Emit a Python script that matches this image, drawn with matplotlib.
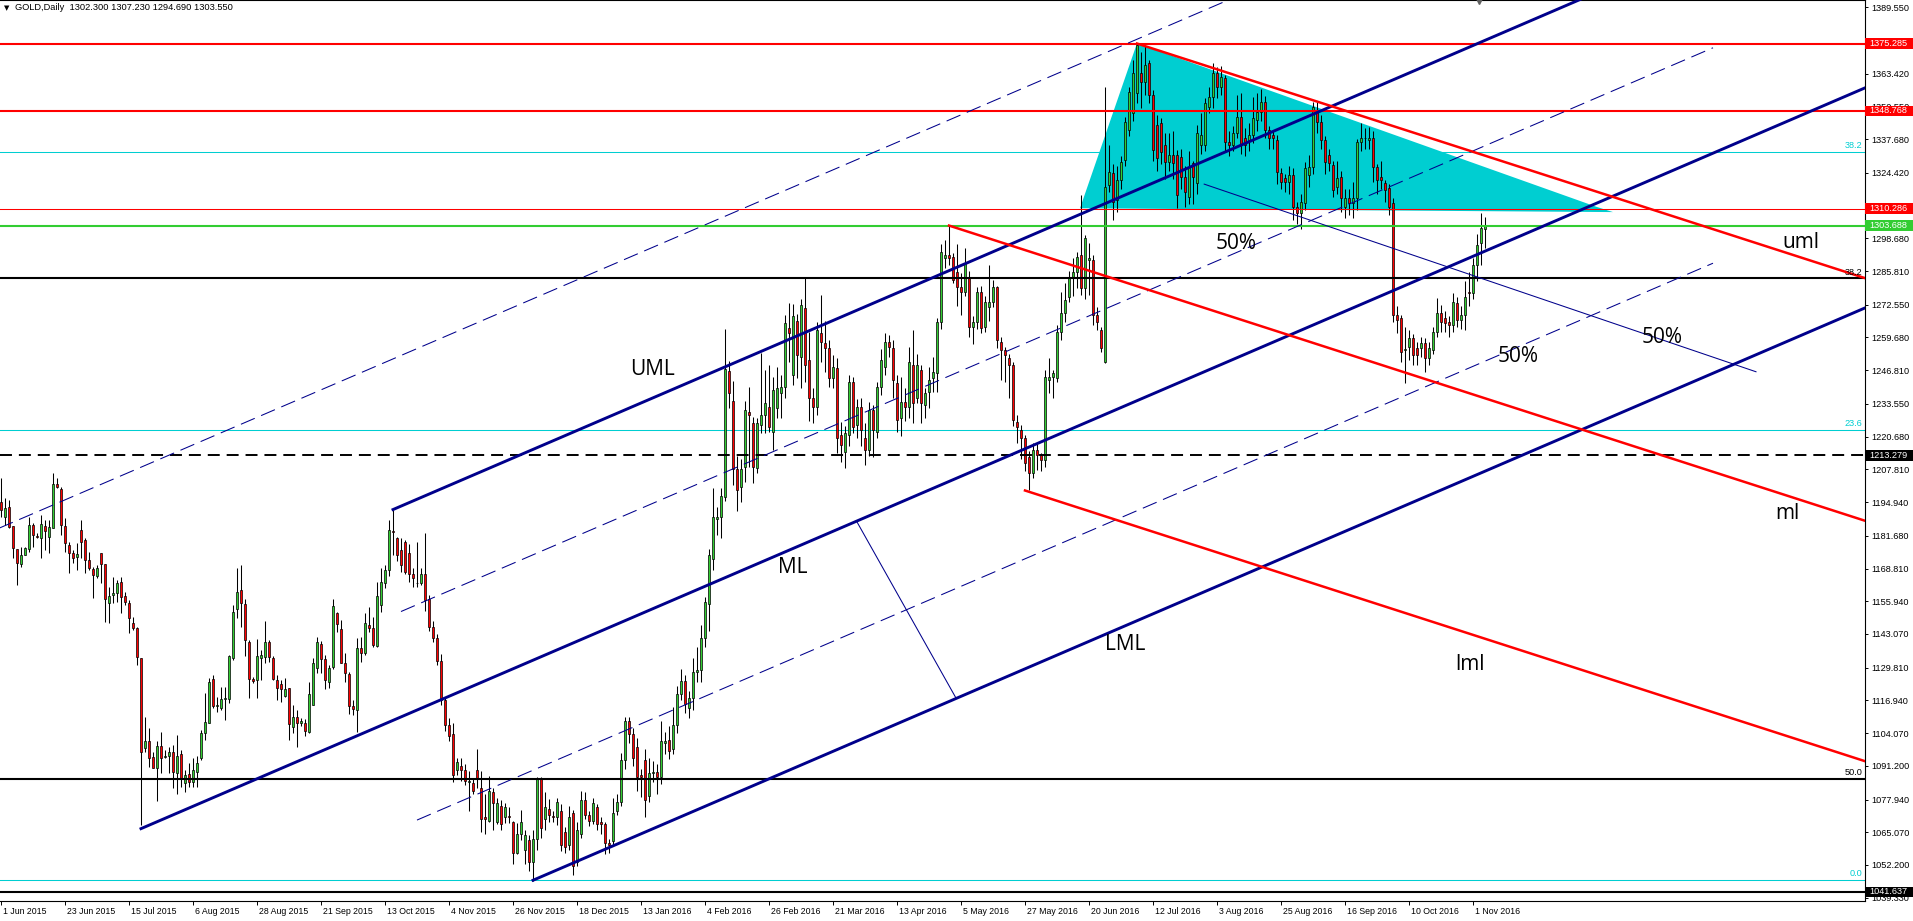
import matplotlib
matplotlib.use("Agg")
import matplotlib.pyplot as plt
import matplotlib.transforms as mtransforms
from matplotlib.patches import Rectangle
import numpy as np

plt.rcParams["font.family"] = ["Liberation Sans", "DejaVu Sans"]
plt.rcParams["lines.scale_dashes"] = False

# daily GOLD candles, one per bar (bar 0 = 1 Jun 2015)
opens = [
    1195.0, 1189.2, 1193.2, 1185.6, 1176.4, 1170.5, 1174.2, 1176.4, 1186.0, 1181.6,
    1180.7, 1185.6, 1181.4, 1184.7, 1202.0, 1200.0, 1185.6, 1178.1, 1174.8, 1173.2,
    1184.0, 1180.1, 1172.2, 1168.5, 1165.9, 1174.8, 1170.5, 1155.2, 1158.2, 1159.1,
    1163.4, 1158.0, 1155.2, 1147.3, 1145.3, 1133.5, 1098.1, 1100.8, 1094.6, 1090.5,
    1099.1, 1094.6, 1094.9, 1096.8, 1088.3, 1095.8, 1084.4, 1087.9, 1085.0, 1088.9,
    1094.2, 1104.0, 1108.2, 1125.4, 1114.9, 1113.8, 1117.6, 1117.4, 1133.5, 1152.9,
    1160.4, 1154.8, 1140.1, 1125.3, 1125.0, 1133.5, 1134.2, 1139.8, 1133.5, 1125.0,
    1123.3, 1118.7, 1121.7, 1106.4, 1110.6, 1107.9, 1108.2, 1104.7, 1115.2, 1129.8,
    1139.0, 1133.1, 1124.1, 1130.2, 1151.5, 1144.9, 1131.8, 1127.2, 1114.9, 1113.2,
    1137.4, 1135.5, 1146.5, 1145.3, 1138.5, 1154.5, 1163.0, 1168.1, 1183.7, 1180.7,
    1176.2, 1179.2, 1174.8, 1166.6, 1163.0, 1163.0, 1166.6, 1157.0, 1145.9, 1141.5,
    1132.6, 1117.1, 1107.4, 1103.7, 1089.4, 1091.2, 1089.4, 1085.0, 1084.5, 1089.4,
    1082.6, 1071.2, 1069.7, 1080.8, 1069.0, 1075.6, 1071.2, 1071.3, 1069.0, 1057.1,
    1064.5, 1058.0, 1062.0, 1053.4, 1062.3, 1086.0, 1070.4, 1074.2, 1071.4, 1071.2,
    1073.4, 1065.3, 1060.1, 1072.6, 1053.4, 1064.5, 1077.8, 1071.9, 1069.7, 1074.9,
    1069.0, 1068.2, 1060.8, 1061.6, 1073.4, 1077.1, 1093.4, 1108.9, 1103.7, 1098.5,
    1087.5, 1093.4, 1079.3, 1088.2, 1088.9, 1086.7, 1100.0, 1101.5, 1097.8, 1107.4,
    1119.3, 1124.5, 1114.1, 1117.8, 1128.2, 1128.9, 1141.5, 1154.8, 1172.6, 1188.1,
    1189.1, 1197.0, 1246.6, 1234.7, 1208.1, 1200.7, 1208.9, 1230.5, 1225.9, 1208.2,
    1225.3, 1229.2, 1232.5, 1222.7, 1231.8, 1237.7, 1240.3, 1263.3, 1245.0, 1266.0,
    1252.2, 1271.1, 1250.8, 1235.8, 1232.5, 1261.3, 1257.4, 1255.4, 1243.6, 1247.5,
    1221.3, 1214.8, 1221.3, 1242.3, 1225.3, 1232.5, 1220.0, 1215.4, 1231.2, 1222.7,
    1240.3, 1248.0, 1258.1, 1255.4, 1241.6, 1227.9, 1234.4, 1232.5, 1248.9, 1236.0,
    1246.9, 1233.1, 1238.4, 1243.6, 1245.6, 1265.9, 1291.0, 1292.1, 1291.5, 1285.5,
    1279.7, 1277.7, 1283.6, 1264.0, 1265.9, 1277.7, 1264.0, 1271.8, 1273.8, 1279.7,
    1258.1, 1254.8, 1251.5, 1248.9, 1226.6, 1223.3, 1220.0, 1212.8, 1206.3, 1215.4,
    1213.5, 1211.5, 1243.0, 1244.3, 1243.6, 1262.0, 1269.2, 1275.7, 1283.6, 1285.5,
    1292.1, 1279.0, 1290.2, 1290.2, 1268.5, 1262.6, 1250.2, 1319.7, 1324.2, 1313.8,
    1321.6, 1329.5, 1341.3, 1347.9, 1355.7, 1363.6, 1360.3, 1367.5, 1355.0, 1343.3,
    1343.9, 1335.4, 1328.8, 1331.5, 1331.5, 1330.8, 1322.9, 1315.1, 1328.2, 1320.3,
    1335.4, 1335.4, 1350.5, 1354.4, 1363.6, 1358.3, 1361.6, 1336.7, 1335.4, 1340.0,
    1346.5, 1338.0, 1337.3, 1339.3, 1345.2, 1348.5, 1352.4, 1341.3, 1339.3, 1337.3,
    1324.2, 1322.3, 1321.0, 1323.6, 1311.1, 1308.5, 1312.5, 1323.6, 1326.9, 1349.2,
    1344.6, 1337.3, 1331.5, 1327.5, 1319.0, 1322.9, 1311.1, 1314.4, 1312.5, 1314.4,
    1336.7, 1338.0, 1337.3, 1338.0, 1326.9, 1322.9, 1320.3, 1318.3, 1312.5, 1268.5,
    1267.2, 1254.8, 1256.1, 1259.4, 1255.4, 1255.4, 1257.4, 1251.5, 1254.8, 1262.0,
    1269.2, 1267.2, 1265.9, 1264.6, 1273.1, 1266.6, 1268.5, 1277.7, 1277.1, 1288.2,
    1296.7, 1302.3,
]
highs = [
    1204.3, 1196.5, 1195.8, 1185.6, 1176.4, 1177.4, 1177.4, 1189.2, 1186.6, 1182.7,
    1189.9, 1187.9, 1187.9, 1206.3, 1204.3, 1201.0, 1188.6, 1179.4, 1176.1, 1178.8,
    1187.9, 1180.7, 1175.5, 1169.6, 1170.2, 1174.8, 1170.5, 1161.7, 1165.6, 1164.3,
    1165.6, 1159.7, 1156.5, 1149.9, 1146.0, 1133.5, 1110.6, 1106.0, 1096.8, 1100.8,
    1104.7, 1097.5, 1098.8, 1099.4, 1103.4, 1097.5, 1089.6, 1092.3, 1094.2, 1094.9,
    1105.3, 1119.8, 1125.7, 1127.0, 1118.4, 1122.4, 1122.4, 1134.8, 1154.5, 1168.9,
    1170.2, 1156.7, 1140.7, 1126.3, 1141.0, 1136.8, 1148.2, 1140.7, 1134.4, 1127.0,
    1125.0, 1125.7, 1121.7, 1115.2, 1113.2, 1109.9, 1109.5, 1124.0, 1133.5, 1142.0,
    1140.3, 1134.8, 1130.9, 1156.7, 1151.9, 1148.6, 1135.5, 1128.3, 1117.1, 1141.4,
    1142.0, 1151.2, 1153.8, 1149.9, 1163.7, 1168.9, 1170.0, 1188.0, 1192.0, 1181.4,
    1180.7, 1180.0, 1178.5, 1168.9, 1179.2, 1168.9, 1182.9, 1158.5, 1148.0, 1143.0,
    1135.0, 1118.0, 1110.0, 1108.0, 1094.4, 1094.4, 1092.0, 1089.0, 1086.0, 1097.8,
    1089.0, 1080.0, 1087.3, 1082.3, 1078.6, 1077.8, 1076.4, 1074.9, 1069.7, 1068.9,
    1074.0, 1066.0, 1064.0, 1066.0, 1087.0, 1087.0, 1081.0, 1078.0, 1073.4, 1078.6,
    1076.0, 1067.0, 1075.6, 1074.0, 1069.0, 1081.5, 1080.8, 1073.4, 1078.6, 1076.0,
    1071.2, 1069.0, 1062.3, 1078.6, 1080.0, 1096.3, 1110.4, 1110.4, 1106.0, 1102.0,
    1090.0, 1098.0, 1094.4, 1093.0, 1091.9, 1109.0, 1104.4, 1107.0, 1114.5, 1122.5,
    1129.2, 1126.8, 1120.8, 1133.6, 1138.0, 1146.6, 1157.8, 1176.5, 1200.6, 1193.0,
    1200.6, 1263.1, 1250.4, 1242.7, 1213.0, 1212.0, 1234.7, 1240.3, 1228.5, 1227.9,
    1253.5, 1246.9, 1248.9, 1244.3, 1248.2, 1245.0, 1268.5, 1273.1, 1273.0, 1269.0,
    1275.0, 1282.9, 1262.0, 1240.0, 1265.9, 1276.2, 1266.0, 1258.8, 1252.7, 1251.5,
    1226.6, 1225.0, 1244.9, 1244.0, 1235.5, 1236.0, 1226.0, 1234.4, 1233.0, 1242.3,
    1255.0, 1261.3, 1260.7, 1258.7, 1245.0, 1244.0, 1240.0, 1256.0, 1262.6, 1253.0,
    1249.0, 1240.0, 1248.0, 1252.0, 1267.2, 1296.6, 1298.0, 1303.7, 1293.0, 1296.6,
    1285.0, 1294.7, 1286.0, 1268.0, 1279.7, 1280.0, 1276.0, 1288.2, 1282.3, 1280.0,
    1260.0, 1256.0, 1253.0, 1250.2, 1229.0, 1225.3, 1221.3, 1215.0, 1218.0, 1218.0,
    1214.1, 1246.9, 1251.5, 1247.0, 1264.6, 1277.7, 1281.0, 1286.0, 1290.8, 1293.5,
    1315.7, 1300.0, 1297.0, 1292.0, 1271.8, 1264.0, 1358.3, 1335.4, 1327.8, 1327.0,
    1331.0, 1346.5, 1358.3, 1368.8, 1375.4, 1372.0, 1374.7, 1369.0, 1357.0, 1347.0,
    1346.0, 1340.0, 1340.0, 1341.0, 1333.4, 1334.0, 1327.0, 1333.0, 1329.0, 1343.3,
    1348.0, 1354.0, 1358.3, 1367.5, 1366.0, 1366.5, 1363.0, 1341.0, 1343.0, 1355.0,
    1355.7, 1342.0, 1344.0, 1354.4, 1356.0, 1357.5, 1354.5, 1343.0, 1341.0, 1339.5,
    1326.2, 1324.0, 1327.0, 1326.2, 1313.0, 1316.0, 1328.8, 1331.5, 1352.4, 1352.4,
    1347.0, 1339.0, 1334.0, 1329.0, 1329.0, 1325.0, 1318.0, 1318.0, 1321.0, 1337.8,
    1343.9, 1342.0, 1342.5, 1341.0, 1328.0, 1329.0, 1321.5, 1320.0, 1314.4, 1272.0,
    1268.5, 1264.0, 1262.6, 1261.0, 1258.0, 1260.0, 1259.5, 1258.0, 1264.0, 1275.4,
    1272.5, 1270.0, 1268.0, 1277.1, 1275.5, 1272.0, 1282.0, 1285.5, 1291.0, 1300.5,
    1308.8, 1307.23,
]
lows = [
    1189.2, 1186.0, 1184.7, 1172.9, 1162.4, 1169.6, 1174.2, 1175.5, 1177.4, 1180.7,
    1172.9, 1176.1, 1174.8, 1184.7, 1200.4, 1182.0, 1175.5, 1167.2, 1170.9, 1168.3,
    1172.9, 1167.0, 1168.3, 1157.1, 1165.0, 1163.0, 1147.9, 1147.3, 1155.2, 1155.8,
    1151.2, 1154.5, 1143.4, 1144.7, 1130.9, 1068.0, 1096.8, 1090.9, 1090.3, 1077.2,
    1088.3, 1094.2, 1088.3, 1082.4, 1080.2, 1083.0, 1081.1, 1083.0, 1083.0, 1083.0,
    1093.5, 1101.4, 1107.9, 1113.8, 1112.5, 1113.2, 1109.3, 1115.8, 1132.9, 1149.3,
    1146.0, 1134.4, 1117.8, 1123.7, 1117.8, 1125.0, 1131.8, 1132.2, 1125.0, 1117.1,
    1116.5, 1118.4, 1101.4, 1104.0, 1098.8, 1106.7, 1103.0, 1104.0, 1115.2, 1127.6,
    1127.6, 1121.3, 1121.7, 1129.2, 1144.0, 1131.5, 1124.3, 1111.6, 1111.2, 1104.7,
    1132.2, 1134.8, 1144.0, 1138.1, 1138.1, 1151.8, 1161.0, 1166.0, 1174.0, 1171.8,
    1167.4, 1166.6, 1163.7, 1161.5, 1161.5, 1162.2, 1152.0, 1144.4, 1140.0, 1131.0,
    1115.0, 1105.0, 1101.0, 1085.0, 1087.5, 1085.2, 1083.7, 1073.4, 1080.0, 1082.3,
    1065.3, 1064.5, 1069.0, 1066.0, 1068.4, 1066.0, 1068.9, 1068.9, 1052.7, 1056.4,
    1062.0, 1052.7, 1050.0, 1046.1, 1058.0, 1063.0, 1066.0, 1069.0, 1069.0, 1068.0,
    1057.8, 1057.0, 1058.0, 1048.3, 1052.0, 1063.0, 1070.4, 1067.5, 1068.2, 1066.0,
    1064.5, 1056.4, 1057.1, 1060.0, 1072.0, 1075.6, 1090.0, 1100.0, 1091.2, 1081.5,
    1079.0, 1071.0, 1077.0, 1085.0, 1080.0, 1084.0, 1096.0, 1094.0, 1096.0, 1104.0,
    1117.0, 1112.0, 1110.0, 1113.0, 1124.0, 1124.0, 1138.0, 1144.4, 1168.2, 1181.8,
    1181.0, 1195.5, 1232.0, 1201.7, 1191.3, 1194.8, 1203.0, 1208.9, 1202.3, 1206.3,
    1222.0, 1222.0, 1222.7, 1215.4, 1227.9, 1228.0, 1236.0, 1250.2, 1241.0, 1243.6,
    1240.0, 1242.3, 1227.0, 1225.9, 1229.0, 1250.0, 1246.3, 1240.3, 1239.7, 1214.1,
    1210.8, 1208.2, 1217.0, 1222.0, 1220.0, 1217.0, 1209.5, 1213.0, 1212.5, 1220.0,
    1237.0, 1245.0, 1252.0, 1236.0, 1222.7, 1221.0, 1227.0, 1228.0, 1226.0, 1234.0,
    1226.0, 1228.0, 1232.0, 1238.4, 1238.4, 1263.0, 1287.0, 1288.0, 1281.0, 1272.0,
    1268.5, 1276.0, 1260.0, 1257.0, 1263.0, 1261.3, 1262.0, 1266.0, 1271.8, 1255.4,
    1243.0, 1242.3, 1236.0, 1225.0, 1218.0, 1212.0, 1207.0, 1199.7, 1204.3, 1207.6,
    1207.0, 1208.9, 1237.7, 1236.0, 1242.0, 1258.7, 1265.9, 1273.8, 1276.0, 1279.0,
    1276.4, 1275.0, 1276.4, 1264.6, 1262.6, 1254.0, 1249.5, 1316.8, 1306.0, 1309.0,
    1318.0, 1327.0, 1339.0, 1345.0, 1352.0, 1350.0, 1355.0, 1352.0, 1329.0, 1325.0,
    1328.0, 1322.0, 1325.0, 1322.0, 1310.5, 1318.0, 1311.0, 1312.0, 1312.0, 1316.0,
    1332.0, 1333.0, 1348.0, 1350.0, 1354.0, 1355.0, 1333.0, 1331.0, 1333.0, 1338.0,
    1332.0, 1331.0, 1333.0, 1336.0, 1341.0, 1345.0, 1338.0, 1334.0, 1334.0, 1320.0,
    1318.0, 1317.0, 1316.0, 1305.8, 1304.3, 1302.2, 1310.0, 1319.0, 1324.0, 1340.0,
    1334.0, 1324.0, 1325.0, 1315.0, 1316.0, 1309.0, 1306.5, 1308.0, 1306.5, 1310.0,
    1333.0, 1334.0, 1334.0, 1321.0, 1316.0, 1318.0, 1313.0, 1308.0, 1265.9, 1261.5,
    1250.2, 1241.6, 1251.0, 1249.0, 1249.0, 1252.0, 1246.2, 1249.0, 1253.0, 1260.0,
    1262.0, 1262.0, 1260.0, 1262.0, 1264.0, 1263.0, 1262.6, 1272.0, 1275.0, 1282.0,
    1288.0, 1294.69,
]
closes = [
    1192.0, 1192.5, 1185.1, 1176.8, 1170.9, 1174.2, 1176.8, 1186.0, 1182.0, 1181.2,
    1186.2, 1183.7, 1185.1, 1202.1, 1200.8, 1186.0, 1178.8, 1175.1, 1172.9, 1174.4,
    1179.4, 1172.2, 1168.9, 1166.3, 1169.2, 1170.6, 1156.7, 1158.0, 1159.1, 1163.0,
    1157.8, 1155.6, 1149.3, 1145.3, 1133.9, 1096.8, 1100.8, 1094.2, 1090.5, 1099.1,
    1094.2, 1095.1, 1096.8, 1088.6, 1095.1, 1086.3, 1087.6, 1085.0, 1089.6, 1092.3,
    1104.3, 1108.6, 1124.1, 1114.9, 1115.2, 1117.4, 1118.0, 1134.4, 1151.9, 1159.4,
    1155.2, 1140.5, 1125.3, 1124.5, 1134.4, 1134.8, 1140.1, 1133.9, 1125.3, 1121.7,
    1121.3, 1121.3, 1107.6, 1110.6, 1107.9, 1108.9, 1105.1, 1119.4, 1131.5, 1140.1,
    1133.1, 1125.0, 1129.8, 1154.1, 1146.9, 1131.8, 1127.6, 1114.9, 1113.5, 1137.4,
    1135.5, 1147.3, 1145.3, 1138.8, 1158.0, 1163.7, 1168.4, 1184.0, 1183.0, 1174.3,
    1170.3, 1167.4, 1166.6, 1165.2, 1163.3, 1166.6, 1156.3, 1145.9, 1141.5, 1132.6,
    1117.1, 1107.4, 1103.0, 1087.5, 1092.6, 1089.4, 1085.2, 1085.4, 1081.5, 1086.0,
    1070.1, 1070.4, 1081.5, 1076.4, 1076.4, 1068.2, 1075.2, 1071.0, 1057.1, 1064.5,
    1069.0, 1064.0, 1053.4, 1062.3, 1086.0, 1066.8, 1074.9, 1071.9, 1071.0, 1077.1,
    1060.1, 1059.3, 1071.2, 1052.0, 1066.0, 1077.8, 1071.9, 1069.7, 1076.4, 1068.2,
    1068.2, 1060.8, 1060.1, 1072.6, 1077.1, 1093.4, 1108.9, 1103.7, 1094.1, 1086.7,
    1086.9, 1077.8, 1088.2, 1088.9, 1086.7, 1100.8, 1100.8, 1097.1, 1107.4, 1119.3,
    1124.5, 1115.6, 1117.8, 1128.2, 1128.9, 1141.5, 1155.5, 1174.0, 1189.1, 1189.1,
    1197.3, 1247.3, 1237.7, 1208.1, 1199.5, 1208.1, 1231.2, 1229.2, 1208.9, 1225.9,
    1229.2, 1233.8, 1224.6, 1239.0, 1239.7, 1240.3, 1265.3, 1261.3, 1268.0, 1252.8,
    1272.5, 1248.9, 1235.8, 1232.5, 1262.6, 1258.1, 1255.4, 1243.6, 1248.2, 1220.0,
    1217.4, 1222.0, 1242.3, 1224.6, 1232.5, 1223.3, 1215.4, 1231.2, 1223.3, 1240.3,
    1251.0, 1258.1, 1256.1, 1243.0, 1227.2, 1234.4, 1232.5, 1250.2, 1233.8, 1248.9,
    1233.8, 1237.7, 1243.0, 1246.2, 1265.9, 1293.4, 1292.1, 1290.8, 1282.3, 1279.7,
    1277.7, 1288.8, 1264.0, 1265.9, 1277.7, 1263.3, 1273.8, 1273.8, 1279.7, 1258.7,
    1254.8, 1252.8, 1248.9, 1227.2, 1224.6, 1220.0, 1210.2, 1206.3, 1215.4, 1213.5,
    1211.5, 1244.3, 1244.3, 1245.6, 1262.0, 1269.2, 1274.4, 1283.6, 1285.5, 1291.5,
    1279.0, 1298.7, 1290.8, 1268.5, 1265.9, 1255.4, 1319.0, 1324.9, 1312.8, 1321.6,
    1328.8, 1344.6, 1356.4, 1363.6, 1374.7, 1360.3, 1366.9, 1355.0, 1333.4, 1330.1,
    1332.8, 1328.8, 1331.5, 1328.2, 1315.7, 1322.9, 1317.0, 1326.9, 1322.9, 1340.0,
    1339.3, 1351.8, 1354.4, 1363.6, 1358.3, 1362.3, 1336.7, 1335.4, 1340.0, 1346.5,
    1335.4, 1335.4, 1339.3, 1345.9, 1348.5, 1352.4, 1341.3, 1338.0, 1338.0, 1324.9,
    1321.0, 1321.0, 1323.6, 1311.1, 1308.5, 1313.1, 1326.2, 1326.9, 1350.5, 1344.6,
    1337.3, 1328.8, 1328.2, 1317.7, 1322.3, 1314.4, 1314.4, 1312.5, 1314.4, 1336.7,
    1338.0, 1338.3, 1338.0, 1326.9, 1321.6, 1321.6, 1317.7, 1311.1, 1268.5, 1266.6,
    1254.1, 1255.0, 1259.4, 1252.8, 1252.8, 1257.4, 1251.5, 1255.4, 1262.0, 1269.2,
    1265.9, 1265.3, 1264.6, 1273.8, 1266.6, 1268.5, 1275.7, 1277.1, 1288.2, 1296.1,
    1302.6, 1303.55,
]

date_bars = list(range(0, 369, 16))
date_labels = ["1 Jun 2015", "23 Jun 2015", "15 Jul 2015", "6 Aug 2015", "28 Aug 2015",
               "21 Sep 2015", "13 Oct 2015", "4 Nov 2015", "26 Nov 2015", "18 Dec 2015",
               "13 Jan 2016", "4 Feb 2016", "26 Feb 2016", "21 Mar 2016", "13 Apr 2016",
               "5 May 2016", "27 May 2016", "20 Jun 2016", "12 Jul 2016", "3 Aug 2016",
               "25 Aug 2016", "16 Sep 2016", "10 Oct 2016", "1 Nov 2016"]

price_ticks = [1389.55, 1363.42, 1350.55, 1337.68, 1324.42, 1298.68, 1285.81, 1272.55,
               1259.68, 1246.81, 1233.55, 1220.68, 1207.81, 1194.94, 1181.68, 1168.81,
               1155.94, 1143.07, 1129.81, 1116.94, 1104.07, 1091.20, 1077.94, 1065.07,
               1052.20, 1039.33]

# horizontal levels
level_prices = [1375.285, 1348.768, 1310.286, 1303.688, 1282.9, 1213.279, 1086.04, 1041.637]
level_colors = ["#FF0000", "#FF0000", "#FF0000", "#32CD32", "black", "black", "black", "black"]
level_widths = [1.5, 1.5, 0.75, 1.5, 1.5, 1.4, 1.5, 1.5]
level_dashed = [False, False, False, False, False, True, False, False]

fib_cyan_prices = [1332.77, 1223.3, 1046.3]
fib_cyan_text = ["38.2", "23.6", "0.0"]
fib_black_prices = [1282.9, 1086.04]
fib_black_text = ["38.2", "50.0"]

box_prices = [1375.285, 1348.768, 1310.286, 1303.688, 1213.279, 1041.637]
box_colors = ["#FF0000", "#FF0000", "#FF0000", "#32CD32", "black", "black"]

# blue pitchfork: anchors A (median start), B (upper), C (lower)
pf_bars = [35, 98, 133]
pf_prices = [1066.5, 1192.0, 1046.2]
pf_slope = 0.676
pf_mid_start = [100, 104]
pf_mid_end = 428
outer_bar, outer_price = 0, 1185.0

# red pitchfork: median from May high, upper from July high, lower from June low
rf_bars = [237, 284, 256]
rf_prices = [1303.7, 1375.3, 1199.5]
rf_slope = -0.507

handle_bars = [213.9, 238.7]
handle_prices = [1187.4, 1118.0]
half_bars = [300.8, 438.75]
half_prices = [1320.0, 1246.2]

tri_bars = [269.75, 284.0, 399.0, 403.0]
tri_prices = [1310.5, 1375.4, 1311.0, 1309.0]

notes = ["UML", "ML", "LML", "uml", "ml", "lml", "50%", "50%", "50%"]
note_bars = [163, 198, 281, 450, 446.6, 367.3, 308.9, 379.4, 415.4]
note_prices = [1247.0, 1169.3, 1139.0, 1296.9, 1190.5, 1130.9, 1296.7, 1252.2, 1259.8]

navy = "#00008B"
cyan = "#00CED1"
dash = (10.8, 5.0)

fig = plt.figure(figsize=(19.13, 9.21), dpi=100)
ax = fig.add_axes([0, 20 / 921, 1865 / 1913, 901 / 921])
ax.set_xlim(-0.25, 466.0)
ax.set_ylim(1038.04, 1392.42)

# background objects
for p in fib_cyan_prices:
    ax.axhline(p, color=cyan, lw=0.75, zorder=0.5)
ax.fill(tri_bars, tri_prices, color=cyan, lw=0, zorder=1)

# candles
x = np.arange(len(closes))
o = np.array(opens)
h = np.array(highs)
l = np.array(lows)
c = np.array(closes)
up = c >= o
ax.vlines(x, l, h, color="black", lw=0.75, zorder=3)
ax.bar(x, np.maximum(np.abs(c - o), 0.3), bottom=np.minimum(o, c), width=0.62,
       color=np.where(up, "#32CD32", "#FF0000"), edgecolor="black", linewidth=0.5,
       zorder=4)

# horizontal levels
for p, col, w, d in zip(level_prices, level_colors, level_widths, level_dashed):
    if d:
        ax.axhline(p, color=col, lw=w, dashes=(8.6, 5.0), zorder=5)
    else:
        ax.axhline(p, color=col, lw=w, zorder=5)

xr = 480


def ray(b0, p0, slope, b1):
    return [b0, b1], [p0, p0 + slope * (b1 - b0)]


# blue pitchfork
for b0, p0 in zip(pf_bars, pf_prices):
    xs, ys = ray(b0, p0, pf_slope, xr)
    ax.plot(xs, ys, color=navy, lw=2.1, zorder=6)
med = lambda b: pf_prices[0] + pf_slope * (b - pf_bars[0])
upr = lambda b: pf_prices[1] + pf_slope * (b - pf_bars[1])
lwr = lambda b: pf_prices[2] + pf_slope * (b - pf_bars[2])
bs = np.array([pf_mid_start[0], pf_mid_end])
ax.plot(bs, (med(bs) + upr(bs)) / 2, color=navy, lw=0.75, dashes=dash, zorder=6)
bs = np.array([pf_mid_start[1], pf_mid_end])
ax.plot(bs, (med(bs) + lwr(bs)) / 2, color=navy, lw=0.75, dashes=dash, zorder=6)
xs, ys = ray(outer_bar - 1, outer_price - pf_slope, pf_slope, xr)
ax.plot(xs, ys, color=navy, lw=0.75, dashes=dash, zorder=6)
ax.plot(handle_bars, handle_prices, color=navy, lw=0.75, zorder=6)
ax.plot(half_bars, half_prices, color=navy, lw=0.75, zorder=6)

# red pitchfork
for b0, p0 in zip(rf_bars, rf_prices):
    xs, ys = ray(b0, p0, rf_slope, xr)
    ax.plot(xs, ys, color="#FF0000", lw=1.8, zorder=6)

for t, b, p in zip(notes, note_bars, note_prices):
    ax.text(b, p, t, fontsize=15, ha="center", va="center", color="black",
            family=["Open Sans", "DejaVu Sans"], zorder=8)

# fib level captions at the right edge
edge = mtransforms.blended_transform_factory(ax.transAxes, ax.transData)
for p, t in zip(fib_cyan_prices, fib_cyan_text):
    ax.text(0.9985, p + 0.6, t, transform=edge, ha="right", va="bottom",
            fontsize=6.6, color=cyan, zorder=8)
for p, t in zip(fib_black_prices, fib_black_text):
    ax.text(0.9985, p + 0.6, t, transform=edge, ha="right", va="bottom",
            fontsize=6.6, color="black", zorder=8)

# price boxes on the axis
for p, col in zip(box_prices, box_colors):
    ax.add_patch(Rectangle((1.0, p - 2.1), 48 / 1865, 4.2, transform=edge,
                           facecolor=col, edgecolor="none", clip_on=False, zorder=9))
    ax.text(1.0 + 4 / 1865, p, f"{p:.3f}", transform=edge, ha="left", va="center",
            fontsize=6.6, color="white", clip_on=False, zorder=10)

# axes look
ax.spines["left"].set_visible(False)
for s in ["right", "bottom", "top"]:
    ax.spines[s].set_linewidth(0.8)
ax.yaxis.tick_right()
ax.set_yticks(price_ticks)
ax.set_yticklabels([f"{v:.3f}" for v in price_ticks])
ax.tick_params(axis="y", direction="out", length=2.5, width=0.7, pad=2, labelsize=6.6)
ax.set_xticks(date_bars)
ax.set_xticklabels(date_labels)
ax.tick_params(axis="x", direction="out", length=3, width=0.7, pad=1.5, labelsize=6.3)
shift = mtransforms.ScaledTranslation(2 / 100, 0, fig.dpi_scale_trans)
for lab in ax.get_xticklabels():
    lab.set_horizontalalignment("left")
    lab.set_transform(lab.get_transform() + shift)

# chart shift marker and header
ax.plot([369.5], [1.0], marker="v", markersize=6, color="#606060",
        transform=mtransforms.blended_transform_factory(ax.transData, ax.transAxes),
        clip_on=False, zorder=10)
fig.text(4 / 1913, 1 - 8 / 921, "\u25bc", fontsize=5, va="center", ha="left",
         family=["DejaVu Sans"])
fig.text(15 / 1913, 1 - 8 / 921, "GOLD,Daily  1302.300 1307.230 1294.690 1303.550",
         fontsize=6.7, va="center", ha="left", color="black")

fig.savefig("out.png", dpi=100)
